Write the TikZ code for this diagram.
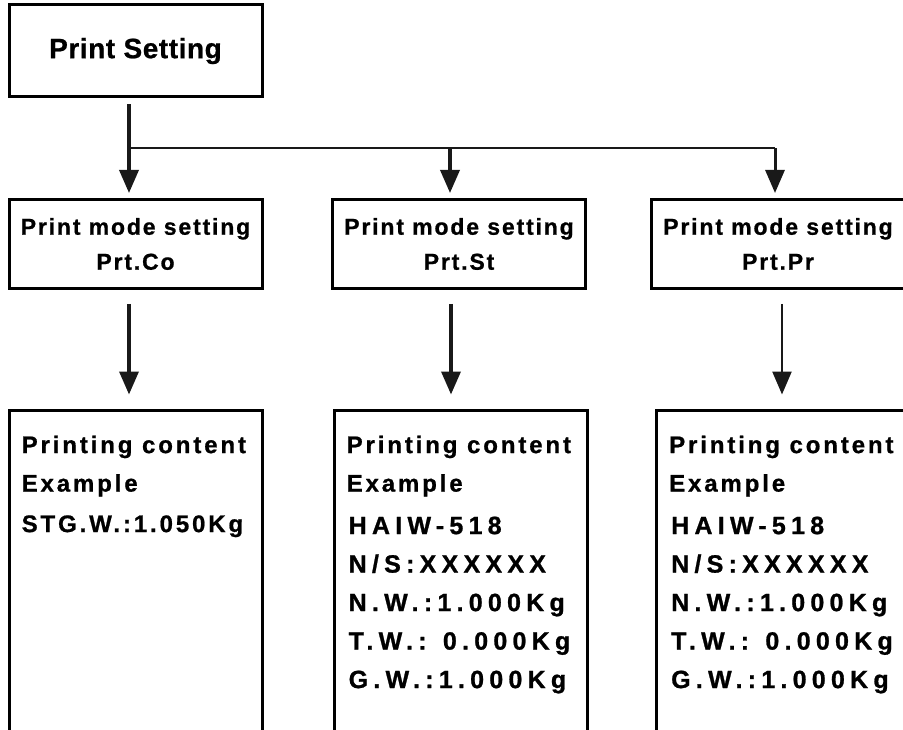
\documentclass[tikz,border=0pt]{standalone}
\usepackage{fontspec}
\setmainfont{Liberation Sans}
\newfontfamily\titlefont[LetterSpace=2,BoldFeatures={FakeBold=0.8}]{Liberation Sans}
\newfontfamily\modefont[LetterSpace=8,BoldFeatures={FakeBold=0.8}]{Liberation Sans}
\newfontfamily\headfont[LetterSpace=12,BoldFeatures={FakeBold=0.8}]{Liberation Sans}
\newfontfamily\datafont[LetterSpace=21,BoldFeatures={FakeBold=1}]{Liberation Sans}
\newcommand\dataline[1]{{\datafont\fontsize{25}{38.5}\selectfont\hspace{2pt}#1}}
\usetikzlibrary{arrows.meta,calc}

\begin{document}
\begin{tikzpicture}[
    x=1pt, y=-1pt,
    box/.style={draw, line width=3pt, rectangle, minimum width=253pt, minimum height=89pt, inner sep=0pt, align=center, font=\modefont\bfseries\fontsize{23}{35}\selectfont},
    tallbox/.style={box, minimum height=360pt, anchor=north},
    content/.style={anchor=north west, inner sep=0pt, align=left, font=\headfont\bfseries\fontsize{24}{38.5}\selectfont},
    edge/.style={-{Triangle[width=19pt,length=23pt]}, line width=3.5pt, draw=black!90},
    link/.style={line width=2.5pt, draw=black!90},
]

\useasboundingbox (0,0) rectangle (903,730);
\clip (0,0) rectangle (903,730);
\fill[white] (0,0) rectangle (903,730);

% Top
\node[box, minimum height=92pt, font=\titlefont\bfseries\fontsize{28}{34}\selectfont] (set) at (135.5, 51) {Print Setting};

% Print modes
\node[box] (co) at (135.5, 244) {Print mode setting\\Prt.Co};
\node[box] (st) at (459, 244) {Print mode setting\\Prt.St};
\node[box] (pr) at (778, 244) {Print mode setting\\Prt.Pr};

% Printing contents
\node[tallbox] (coBox) at (135.5, 408.5) {};
\node[tallbox] (stBox) at (460.5, 408.5) {};
\node[tallbox] (prBox) at (783, 408.5) {};

\node[content] (coText) at ([xshift=14pt,yshift=-27pt]coBox.north west) {Printing content\\Example\\[2pt]STG.W.:1.050Kg};
\node[content] (stText) at ([xshift=14pt,yshift=-27pt]stBox.north west) {Printing content\\Example\\[4pt]
  \dataline{HAIW-518}\\\dataline{N/S:XXXXXX}\\\dataline{N.W.:1.000Kg}\\\dataline{T.W.: 0.000Kg}\\\dataline{G.W.:1.000Kg}};
\node[content] (prText) at ([xshift=14pt,yshift=-27pt]prBox.north west) {Printing content\\Example\\[4pt]
  \dataline{HAIW-518}\\\dataline{N/S:XXXXXX}\\\dataline{N.W.:1.000Kg}\\\dataline{T.W.: 0.000Kg}\\\dataline{G.W.:1.000Kg}};

% Arrow entry points
\coordinate (setOut) at ([xshift=-6.5pt]set.south);
\coordinate (coIn) at ([xshift=-6.5pt]co.north);
\coordinate (stIn) at ([xshift=-9pt]st.north);
\coordinate (prIn) at ([xshift=-3pt]pr.north);
\coordinate (coOut) at ([xshift=-6.5pt]co.south);
\coordinate (stOut) at ([xshift=-8pt]st.south);
\coordinate (prOut) at ([xshift=4pt]pr.south);

% Branching
\coordinate (split) at ($(setOut)!0.5!(coIn)$);
\draw[edge, shorten <=6pt, shorten >=5pt] (setOut) -- (coIn);
\draw[link] (split) -- (split -| prIn);
\draw[edge, shorten >=5pt] (split -| stIn) -- (stIn);
\draw[edge, line width=3pt, shorten >=5pt] (split -| prIn) -- (prIn);

\draw[edge, shorten <=14pt, shorten >=14pt] (coOut) -- (coOut |- coBox.north);
\draw[edge, shorten <=14pt, shorten >=14pt] (stOut) -- (stOut |- stBox.north);
\draw[edge, line width=2.5pt, shorten <=14pt, shorten >=14pt] (prOut) -- (prOut |- prBox.north);

\end{tikzpicture}
\end{document}
